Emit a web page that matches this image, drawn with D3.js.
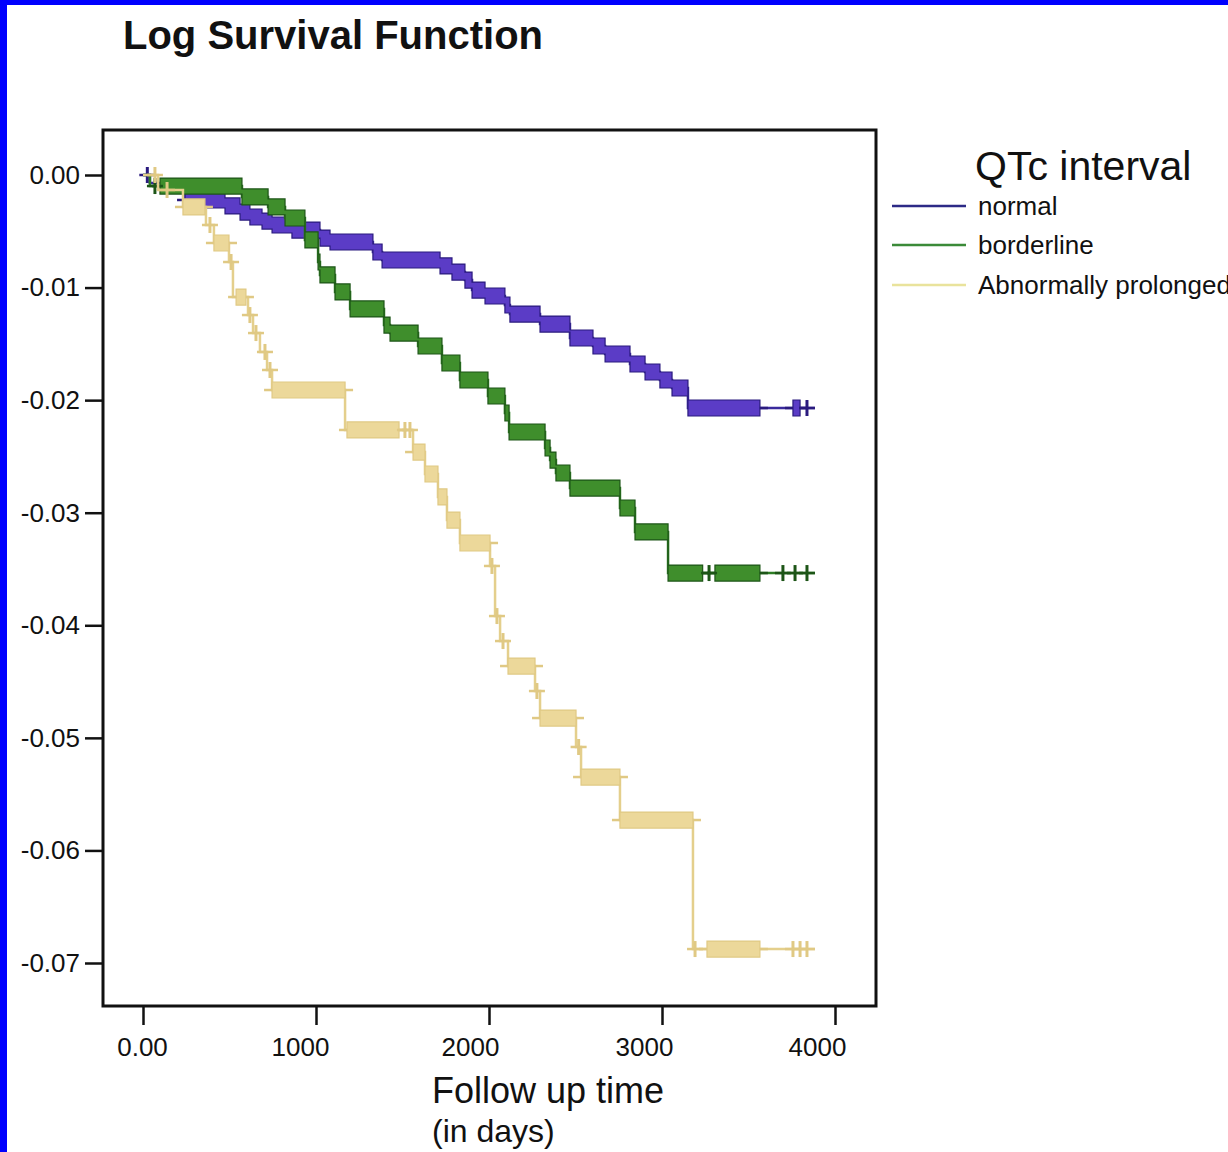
<!DOCTYPE html>
<html><head><meta charset="utf-8">
<script src="https://cdn.jsdelivr.net/npm/d3@7"></script>
<style>
body{margin:0;background:#fff;}
svg{display:block;font-family:"Liberation Sans",Arial,Helvetica,sans-serif;}
</style>
</head><body><div id="chart"></div>
<script>
// ---------- data ----------
const chartTitle = "Log Survival Function";
const legendTitle = "QTc interval";
const seriesNames = ["normal", "borderline", "Abnormally prolonged"];
const xTickValues = [0, 1000, 2000, 3000, 4000];
const xTickLabels = ["0.00", "1000", "2000", "3000", "4000"];
const yTickValues = [0, -0.01, -0.02, -0.03, -0.04, -0.05, -0.06, -0.07];
const yTickLabels = ["0.00", "-0.01", "-0.02", "-0.03", "-0.04", "-0.05", "-0.06", "-0.07"];
const followUpEnd = 3884;

// normal
const normalTimes  = [0, 40, 243, 474, 561, 618, 688, 746, 861, 1023, 1081, 1329, 1382, 1717, 1786, 1861, 1902, 1977, 2092, 2121, 2295, 2468, 2601, 2671, 2815, 2902, 2988, 3058, 3150];
const normalValues = [0, -0.00071, -0.00222, -0.00275, -0.00329, -0.00373, -0.00409, -0.00444, -0.00489, -0.00560, -0.00595, -0.00684, -0.00755, -0.00808, -0.00862, -0.00933, -0.01022, -0.01075, -0.01155, -0.01235, -0.01324, -0.01448, -0.01519, -0.01590, -0.01679, -0.01750, -0.01821, -0.01892, -0.02070];
const normalCensorRuns  = [[243, 3566], [3757, 3798]];
const normalCensorTimes = [25, 3838];

// borderline
const borderlineTimes  = [0, 40, 572, 723, 821, 936, 1012, 1023, 1110, 1197, 1393, 1428, 1590, 1728, 1832, 1994, 2092, 2116, 2324, 2353, 2387, 2468, 2757, 2844, 3035];
const borderlineValues = [0, -0.00098, -0.00195, -0.00284, -0.00382, -0.00577, -0.00773, -0.00888, -0.01039, -0.01190, -0.01333, -0.01404, -0.01519, -0.01670, -0.01821, -0.01963, -0.02114, -0.02283, -0.02425, -0.02532, -0.02647, -0.02781, -0.02958, -0.03171, -0.03536];
const borderlineCensorRuns  = [[98, 3235], [3306, 3566]];
const borderlineCensorTimes = [69, 3272, 3699, 3769, 3838];

// abnormally prolonged
const prolongedTimes  = [0, 87, 231, 364, 410, 497, 520, 607, 636, 676, 717, 746, 1168, 1561, 1630, 1705, 1757, 1832, 2006, 2035, 2064, 2110, 2266, 2295, 2503, 2532, 2757, 3179];
const prolongedValues = [0, -0.00133, -0.00284, -0.00444, -0.00604, -0.00773, -0.01084, -0.01244, -0.01404, -0.01572, -0.01732, -0.01910, -0.02265, -0.02461, -0.02656, -0.02860, -0.03065, -0.03269, -0.03473, -0.03918, -0.04140, -0.04362, -0.04584, -0.04824, -0.05081, -0.05348, -0.05730, -0.06876];
const prolongedCensorRuns  = [[231, 358], [410, 497], [538, 595], [746, 1168], [1179, 1480], [1561, 2006], [2110, 2266], [2295, 2503], [2532, 2757], [2757, 3179], [3260, 3566]];
const prolongedCensorTimes = [69, 139, 387, 509, 618, 653, 705, 734, 1514, 1543, 2017, 2046, 2081, 2277, 2518, 3191, 3757, 3798, 3838];

// ---------- styles ----------
const W = 1228, H = 1152;
const styles = [
  {line: "#3a2a9c", fill: "#5b3cc6", edge: "#2a1a7e", legend: "#2c2a86"},
  {line: "#2e7d24", fill: "#3f8e2c", edge: "#1d5517", legend: "#3b8a38"},
  {line: "#e4cf8c", fill: "#ecd89a", edge: "#e0c984", legend: "#e9e39c"}
];
const xLabelShift = [-1, -16, -19, -18, -18];
const series = [
  {times: normalTimes, values: normalValues, runs: normalCensorRuns, ticks: normalCensorTimes},
  {times: borderlineTimes, values: borderlineValues, runs: borderlineCensorRuns, ticks: borderlineCensorTimes},
  {times: prolongedTimes, values: prolongedValues, runs: prolongedCensorRuns, ticks: prolongedCensorTimes}
];

const svg = d3.select("#chart").append("svg").attr("width", W).attr("height", H);
svg.append("rect").attr("width", W).attr("height", H).attr("fill", "#fff");

// blue frame edges
svg.append("rect").attr("x", 0).attr("y", 0).attr("width", W).attr("height", 5).attr("fill", "#0000fe");
svg.append("rect").attr("x", 0).attr("y", 0).attr("width", 7).attr("height", H).attr("fill", "#0000fe");

const x = d3.scaleLinear().domain([0, 4000]).range([143, 835]);
const y = d3.scaleLinear().domain([0, -0.07]).range([175, 963]);
const box = {left: 103, right: 876, top: 130, bottom: 1006};

// title
svg.append("text").attr("x", 123).attr("y", 49).attr("font-size", 40).attr("font-weight", "bold")
  .attr("fill", "#111").text(chartTitle);

// axes
const yAxis = d3.axisLeft(y).tickValues(yTickValues).tickSize(18).tickPadding(5)
  .tickFormat((d, i) => yTickLabels[i]);
const gy = svg.append("g").attr("transform", `translate(${box.left},0)`).call(yAxis);
gy.select(".domain").remove();
gy.selectAll("line").attr("stroke", "#111").attr("stroke-width", 2.5);
gy.selectAll("text").attr("font-size", 26).attr("fill", "#111").attr("font-family", "Liberation Sans, Arial, sans-serif");

const xAxis = d3.axisBottom(x).tickValues(xTickValues).tickSize(18).tickPadding(13)
  .tickFormat((d, i) => xTickLabels[i]);
const gx = svg.append("g").attr("transform", `translate(0,${box.bottom + 1})`).call(xAxis);
gx.select(".domain").remove();
gx.selectAll("line").attr("stroke", "#111").attr("stroke-width", 2.5);
gx.selectAll("text").attr("font-size", 26).attr("fill", "#111").attr("font-family", "Liberation Sans, Arial, sans-serif")
  .attr("dx", (d, i) => xLabelShift[i]);

// plot frame
svg.append("rect").attr("x", box.left).attr("y", box.top)
  .attr("width", box.right - box.left).attr("height", box.bottom - box.top)
  .attr("fill", "none").attr("stroke", "#111").attr("stroke-width", 3);

// axis title
svg.append("text").attr("x", 432).attr("y", 1103).attr("font-size", 36).attr("fill", "#111").text("Follow up time");
svg.append("text").attr("x", 432).attr("y", 1142).attr("font-size", 32).attr("fill", "#111").text("(in days)");

// helpers
function valueAt(s, t) { let v = s.values[0]; s.times.forEach((tt, i) => { if (tt <= t) v = s.values[i]; }); return v; }
function valueBefore(s, t) { let v = s.values[0]; s.times.forEach((tt, i) => { if (tt < t) v = s.values[i]; }); return v; }

const HALF = 8, ARM = 8;
const stepLine = d3.line().x(d => x(d[0])).y(d => y(d[1])).curve(d3.curveStepAfter);
const band = d3.area().x(d => x(d[0])).y0(d => y(d[1]) - HALF).y1(d => y(d[1]) + HALF).curve(d3.curveStepAfter);

series.forEach((s, k) => {
  const st = styles[k];
  const g = svg.append("g");
  const pts = s.times.map((t, i) => [t, s.values[i]]);
  pts.push([followUpEnd, s.values[s.values.length - 1]]);
  g.append("path").attr("d", stepLine(pts)).attr("fill", "none").attr("stroke", st.line).attr("stroke-width", 2.5);

  // dense censoring runs
  s.runs.forEach(([t0, t1]) => {
    const p = [[t0, valueAt(s, t0)]];
    s.times.forEach((tt, i) => { if (tt > t0 && tt < t1) p.push([tt, s.values[i]]); });
    p.push([t1, valueBefore(s, t1)]);
    g.append("path").attr("d", band(p)).attr("fill", st.fill).attr("stroke", st.edge).attr("stroke-width", 1.2);
    const ya = y(valueAt(s, t0)), yb = y(valueBefore(s, t1));
    g.append("line").attr("x1", x(t0) - ARM).attr("x2", x(t0)).attr("y1", ya).attr("y2", ya)
      .attr("stroke", st.edge).attr("stroke-width", 2.5);
    g.append("line").attr("x1", x(t1)).attr("x2", x(t1) + ARM).attr("y1", yb).attr("y2", yb)
      .attr("stroke", st.edge).attr("stroke-width", 2.5);
  });

  // isolated censor marks
  s.ticks.forEach(t => {
    const cx = x(t), cy = y(valueAt(s, t));
    g.append("line").attr("x1", cx).attr("x2", cx).attr("y1", cy - HALF).attr("y2", cy + HALF)
      .attr("stroke", st.edge).attr("stroke-width", 3);
    g.append("line").attr("x1", cx - ARM).attr("x2", cx + ARM).attr("y1", cy).attr("y2", cy)
      .attr("stroke", st.edge).attr("stroke-width", 2.5);
  });
});

// legend
svg.append("text").attr("x", 975).attr("y", 180).attr("font-size", 41).attr("fill", "#111").text(legendTitle);
const legendY = [206, 245, 285];
seriesNames.forEach((name, i) => {
  svg.append("line").attr("x1", 892).attr("x2", 966).attr("y1", legendY[i]).attr("y2", legendY[i])
    .attr("stroke", styles[i].legend).attr("stroke-width", 2.5);
  svg.append("text").attr("x", 978).attr("y", legendY[i] + 9).attr("font-size", 26).attr("fill", "#111").text(name);
});
</script>
</body></html>
